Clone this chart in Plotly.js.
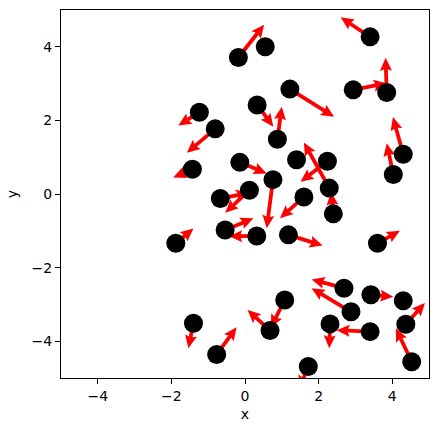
<!DOCTYPE html>
<html>
<head>
<meta charset="utf-8">
<script src="https://cdn.plot.ly/plotly-3.0.1.min.js"></script>
<style>html,body{margin:0;padding:0;background:#fff;}#chart{width:439px;height:432px;}</style>
</head>
<body>
<div id="chart"></div>
<script>
// Point positions
const px_ = [-0.18, 0.55, 3.40, 1.22, 2.94, 3.85, -1.24, -0.81, 0.33, 0.88,
             -1.43, -0.14, 0.76, 1.40, 2.24, 2.29, 1.60, 2.40, 0.12, -0.67,
             -0.54, 0.32, 1.18, -1.88, 3.60, 4.30, 4.03, -1.40, -0.77, 0.68,
             1.08, 1.72, 2.31, 2.69, 2.88, 3.42, 3.40, 4.30, 4.37, 4.53];
const py_ = [3.71, 4.00, 4.27, 2.85, 2.83, 2.76, 2.22, 1.77, 2.42, 1.49,
             0.67, 0.86, 0.39, 0.93, 0.89, 0.16, -0.08, -0.54, 0.10, -0.12,
             -0.98, -1.14, -1.11, -1.34, -1.34, 1.08, 0.53, -3.51, -4.36, -3.71,
             -2.88, -4.69, -3.53, -2.56, -3.20, -2.74, -3.74, -2.90, -3.54, -4.56];
// Vector components
const u = [0.70, 0.00, -0.80, 1.20, 0.91, -0.03, -0.57, -0.77, 0.44, 0.12,
           -0.52, 0.73, -0.17, 0.00, -0.73, -0.69, -0.65, -0.06, -0.66, 0.78,
           0.77, -0.75, 0.93, 0.48, 0.61, -0.28, -0.18, -0.14, 0.54, -0.61,
           -0.38, -0.25, -0.02, -0.88, -1.07, 0.61, -0.91, 0.00, 0.52, -0.43];
const v = [0.89, 0.00, 0.53, -0.75, 0.18, 0.94, -0.36, -0.65, -0.59, 0.88,
           -0.22, -0.30, -1.32, 0.00, -0.56, 1.24, -0.58, 0.59, -0.61, 0.15,
           0.32, -0.01, -0.29, 0.40, 0.34, 1.01, 0.85, -0.68, 0.74, 0.56,
           -0.75, -0.60, -0.66, 0.24, 0.64, -0.05, 0.04, 0.00, 0.58, 0.91];
const xTicks = [-4, -2, 0, 2, 4];
const yTicks = [-4, -2, 0, 2, 4];

const W = 439, H = 432;
const margin = {l: 61, r: 10, t: 10, b: 54};
const xRange = [-5, 5], yRange = [-5, 5];
const plotW = W - margin.l - margin.r;
const unitPerPx = (xRange[1] - xRange[0]) / plotW;

// arrow geometry (pixels)
const shaftW = 3.8, headW = 12, headL = 13, headAxL = 11.5;

const ax = [], ay = [];
for (let i = 0; i < px_.length; i++) {
  const L = Math.hypot(u[i], v[i]);
  if (L === 0) continue;
  const dx = u[i] / L, dy = v[i] / L;
  const nx = -dy, ny = dx;
  const w2 = shaftW / 2 * unitPerPx, h2 = headW / 2 * unitPerPx;
  const hl = headL * unitPerPx, hal = headAxL * unitPerPx;
  const pts = [[0, w2], [L - hal, w2], [L - hl, h2], [L, 0], [L - hl, -h2], [L - hal, -w2], [0, -w2]];
  pts.forEach(p => {
    ax.push(px_[i] + dx * p[0] + nx * p[1]);
    ay.push(py_[i] + dy * p[0] + ny * p[1]);
  });
  ax.push(null); ay.push(null);
}

const traces = [
  {type: 'scatter', mode: 'lines', x: ax, y: ay, fill: 'toself', fillcolor: '#ff0000',
   line: {width: 0, color: '#ff0000'}, hoverinfo: 'skip', showlegend: false},
  {type: 'scatter', mode: 'markers', x: px_, y: py_,
   marker: {size: 19, color: '#000000', line: {width: 0}}, showlegend: false}
];

const axisCommon = {
  showgrid: false, zeroline: false, showline: true, mirror: true,
  linecolor: '#000', linewidth: 1, ticks: 'outside', ticklen: 5, tickwidth: 1,
  tickcolor: '#000', tickfont: {size: 14, color: '#000'}
};

const layout = {
  width: W, height: H, margin: margin,
  paper_bgcolor: '#fff', plot_bgcolor: '#fff',
  font: {family: 'DejaVu Sans', size: 14, color: '#000'},
  showlegend: false,
  xaxis: Object.assign({}, axisCommon, {range: xRange, tickvals: xTicks,
    title: {text: 'x', font: {size: 14}, standoff: 6}}),
  yaxis: Object.assign({}, axisCommon, {range: yRange, tickvals: yTicks,
    title: {text: 'y', font: {size: 14}, standoff: 10}})
};

Plotly.newPlot('chart', traces, layout, {staticPlot: true, displayModeBar: false});
</script>
</body>
</html>
